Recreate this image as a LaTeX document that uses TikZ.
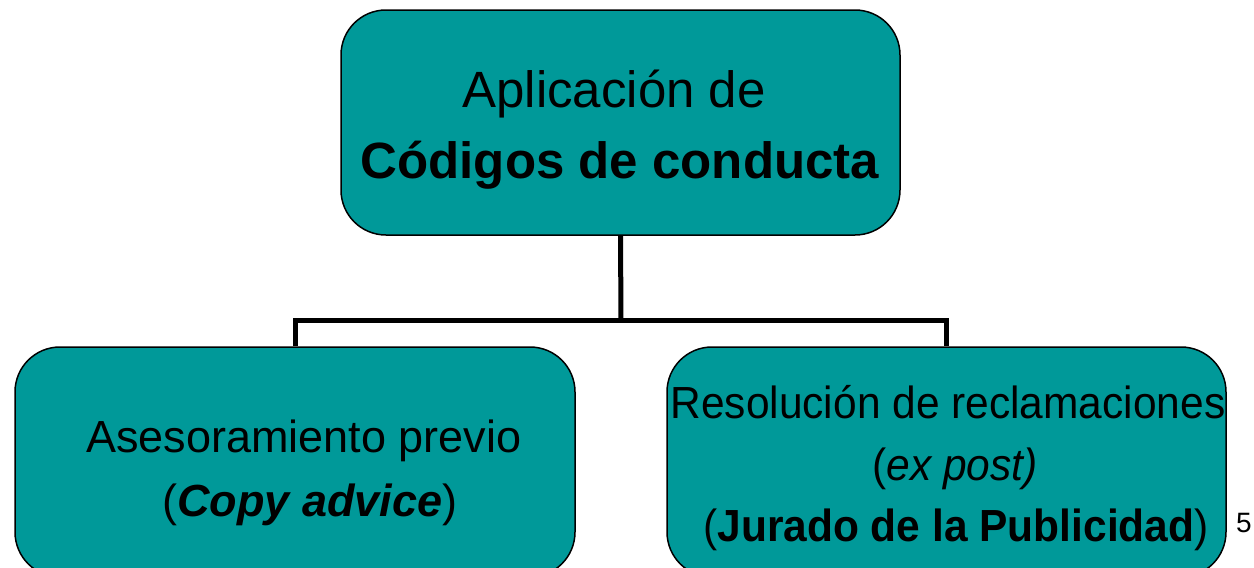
\documentclass[tikz,border=0pt]{standalone}
\usepackage{fontspec}
\setmainfont{Liberation Sans}
\newfontfamily\narrowsans[FakeStretch=0.944]{Liberation Sans}
\definecolor{tealbox}{RGB}{0,153,153}
\begin{document}
\begin{tikzpicture}[x=1pt,y=-1pt,
  box/.style={draw=black, line width=1.5pt, fill=tealbox, rounded corners=45pt, inner sep=0pt},
  conn/.style={line width=5pt, line join=miter},
  big/.style={anchor=base, inner sep=0pt, font=\fontsize{51}{61}\selectfont},
  mid/.style={anchor=base, inner sep=0pt, font=\fontsize{45}{54}\selectfont},
  midn/.style={anchor=base, inner sep=0pt, font=\narrowsans\fontsize{45}{54}\selectfont},
  small/.style={anchor=base, inner sep=0pt, font=\fontsize{28}{33}\selectfont}]
\useasboundingbox (0,0) rectangle (1254,568);
\node[box, minimum width=559pt, minimum height=225pt] (top) at (620.5,122.5) {};
\node[box, minimum width=560pt, minimum height=230pt] (left) at (295,462) {};
\node[box, minimum width=559pt, minimum height=230pt] (right) at (946.5,462) {};
\coordinate (j) at (621,320);
\draw[conn] (top.south) -- (j);
\draw[conn] (left.north) -- (left.north |- j) -- (right.north |- j) -- (right.north);
\node[big] (t1) at (614,107) {Aplicación de};
\node[big] (t2) at (620,178) {\textbf{Códigos de conducta}};
\node[mid] (l1) at (304,452) {Asesoramiento previo};
\node[mid] (l2) at (310,516) {(\textbf{\itshape Copy advice})};
\node[midn] (r1) at (948,418) {Resolución de reclamaciones};
\node[midn] (r2) at (955,480) {(\textit{ex post)}};
\node[midn] (r3) at (956,541) {(\textbf{Jurado de la Publicidad})};
\node[small] (pg) at (1244,532) {5};
\end{tikzpicture}
\end{document}
